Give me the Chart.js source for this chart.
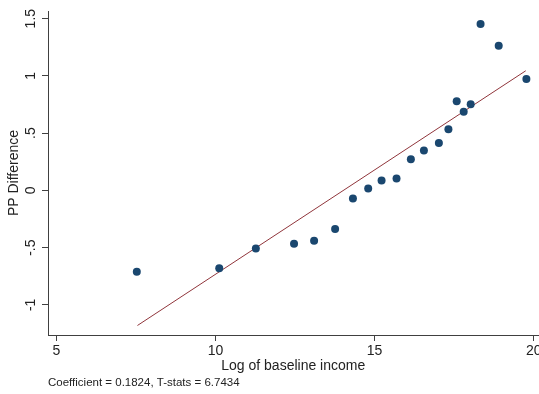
<!DOCTYPE html>
<html>
<head>
<meta charset="utf-8">
<script src="https://cdn.jsdelivr.net/npm/chart.js@4"></script>
<style>
  html, body { margin: 0; padding: 0; background: #fff; overflow: hidden; }
  #wrap { width: 560px; height: 394px; }
</style>
</head>
<body>
<div id="wrap"><canvas id="chart"></canvas></div>
<script>
// binned scatter: log of baseline income vs PP difference
const logIncome = [7.53, 10.12, 11.27, 12.47, 13.10, 13.76, 14.32, 14.80, 15.22, 15.69,
                   16.14, 16.55, 17.02, 17.32, 17.58, 17.80, 18.02, 18.33, 18.90, 19.77];
const ppDiff = [-0.71, -0.68, -0.507, -0.466, -0.44, -0.338, -0.07, 0.017, 0.087, 0.104,
                0.273, 0.348, 0.413, 0.535, 0.779, 0.686, 0.753, 1.454, 1.264, 0.974];

// fitted line end points
const fitX = [7.55, 19.75];
const fitY = [-1.18, 1.045];

const xTicks = [5, 10, 15, 20];
const yTicks = [-1, -0.5, 0, 0.5, 1, 1.5];
const yTickLabels = ['-1', '-.5', '0', '.5', '1', '1.5'];

const xTitle = 'Log of baseline income';
const yTitle = 'PP Difference';
const noteText = 'Coefficient = 0.1824, T-stats = 6.7434';

// plot region in the original stops near x = 20.15 (image edge)
const xVisibleMax = 20.15;

const FONT = '"Liberation Sans", Arial, Helvetica, sans-serif';
const AXIS = '#404040';

const scatterPts = logIncome.map((x, i) => ({ x: x, y: ppDiff[i] }));
const fitPts = fitX.map((x, i) => ({ x: x, y: fitY[i] }));

// x title centred on the visible plot region, not the whole (wider) canvas
const xTitlePlugin = {
    id: 'xTitle',
    afterDraw(chart) {
        const xs = chart.scales.x;
        const c = chart.ctx;
        const cx = (xs.left + xs.getPixelForValue(xVisibleMax)) / 2;
        c.save();
        c.font = '14px ' + FONT;
        c.fillStyle = '#222';
        c.textAlign = 'center';
        c.textBaseline = 'middle';
        c.fillText(xTitle, cx, xs.bottom + 5);
        c.restore();
    }
};

const ctx = document.getElementById('chart').getContext('2d');
const chart = new Chart(ctx, {
    type: 'scatter',
    data: {
        datasets: [{
            label: 'Fitted',
            type: 'line',
            data: fitPts,
            borderColor: '#90353b',
            borderWidth: 1,
            pointRadius: 0,
            fill: false,
            order: 2
        }, {
            label: yTitle,
            data: scatterPts,
            backgroundColor: '#1a476f',
            borderWidth: 0,
            pointRadius: 4,
            order: 1
        }]
    },
    plugins: [xTitlePlugin],
    options: {
        responsive: true,
        maintainAspectRatio: false,
        animation: false,
        layout: { padding: { left: 0, top: 11, right: 0, bottom: 4 } },
        plugins: {
            legend: { display: false },
            tooltip: { enabled: false },
            title: {
                display: true,
                text: noteText,
                position: 'bottom',
                align: 'start',
                fullSize: false,
                color: '#222',
                font: { family: FONT, size: 11.5, weight: 'normal', lineHeight: 1 },
                padding: { top: 16.25, bottom: 1.25 }
            }
        },
        scales: {
            x: {
                type: 'linear',
                min: 4.74,
                max: 20.70,
                afterBuildTicks: (scale) => { scale.ticks = xTicks.map(v => ({ value: v })); },
                border: { display: true, color: AXIS, width: 1 },
                grid: { drawOnChartArea: false, drawTicks: true, tickLength: 6, color: AXIS },
                ticks: {
                    color: '#222',
                    padding: 3,
                    font: { family: FONT, size: 14, lineHeight: 1 },
                    maxRotation: 0,
                    autoSkip: false
                },
                title: { display: false }
            },
            y: {
                type: 'linear',
                min: -1.263,
                max: 1.567,
                afterBuildTicks: (scale) => { scale.ticks = yTicks.map(v => ({ value: v })); },
                border: { display: true, color: AXIS, width: 1 },
                grid: { drawOnChartArea: false, drawTicks: true, tickLength: 6, color: AXIS },
                ticks: {
                    color: '#222',
                    padding: 0.75,
                    crossAlign: 'center',
                    minRotation: 90,
                    maxRotation: 90,
                    font: { family: FONT, size: 14, lineHeight: 1 },
                    autoSkip: false,
                    callback: function(value) {
                        const i = yTicks.indexOf(value);
                        return i >= 0 ? yTickLabels[i] : '';
                    }
                },
                title: {
                    display: true,
                    text: yTitle,
                    color: '#222',
                    font: { family: FONT, size: 14, lineHeight: 1 },
                    padding: { top: 7, bottom: 5.5 }
                }
            }
        }
    }
});
</script>
</body>
</html>
